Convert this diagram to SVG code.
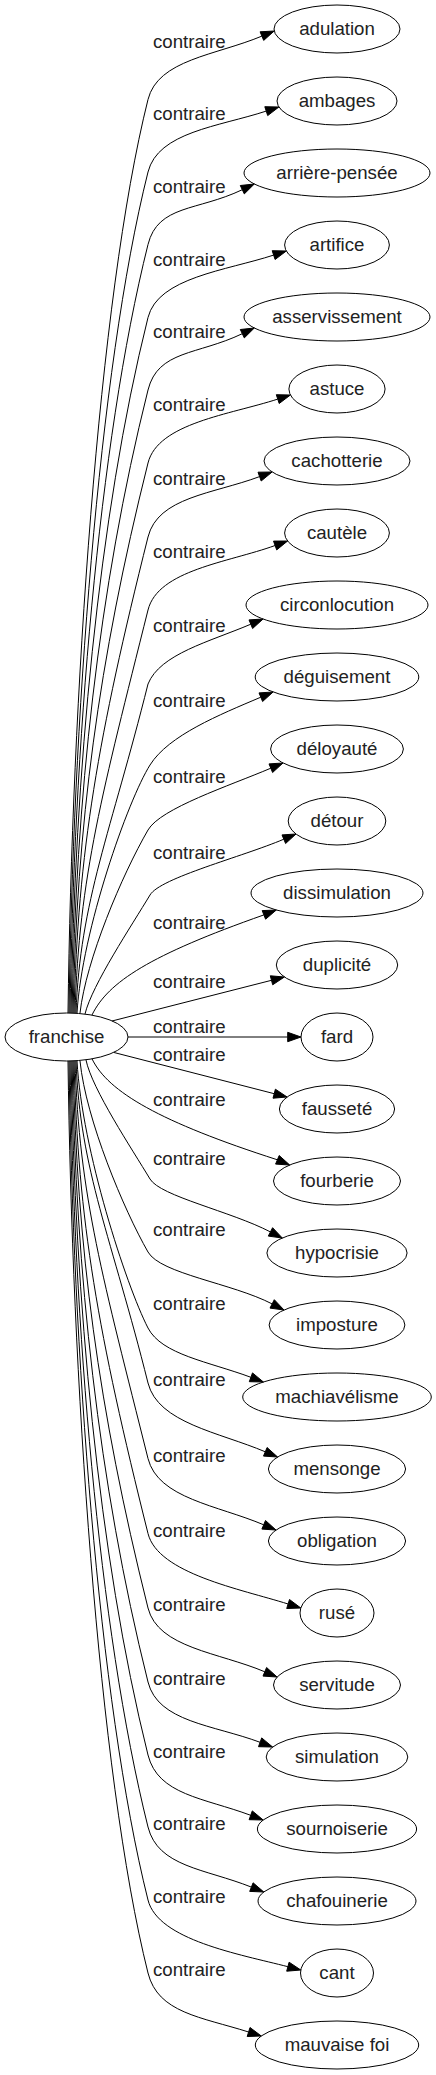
<svg xmlns="http://www.w3.org/2000/svg" width="436" height="2075" viewBox="0 0 436 2075">
<style>
text{font-family:"Liberation Sans",Arial,sans-serif;font-size:18.67px;fill:#222}
.node ellipse{fill:none;stroke:#000;stroke-width:1}
.node text{text-anchor:middle}
.edge path{fill:none;stroke:#000;stroke-width:1}
.edge polygon{fill:#000;stroke:#000;stroke-width:1}
</style>
<rect width="436" height="2075" fill="#fff"/>
<g id="edges">
<g class="edge" id="e0"><path d="M68,1013 C72,702.4 98,299.5 148,99.5 C158,59.5 215.7,55.4 261.9,36.1"/><polygon points="263.7,40.4 274.2,31 260.1,31.8"/><text x="153" y="47.5">contraire</text></g>
<g class="edge" id="e1"><path d="M69,1013 C73,727 98,372 148,172 C158,132 218.7,126.6 266.2,111.1"/><polygon points="267.7,115.6 278.9,107 264.8,106.7"/><text x="153" y="120">contraire</text></g>
<g class="edge" id="e2"><path d="M70,1013 C74,752 98,444.5 148,244.5 C158,204.5 197.3,211.2 242.3,189.7"/><polygon points="244.3,193.9 254.3,184 240.3,185.5"/><text x="153" y="192.5">contraire</text></g>
<g class="edge" id="e3"><path d="M71,1013 C75,776.5 98,517.5 148,317.5 C158,277.5 226.1,270.6 273.6,255.1"/><polygon points="275.1,259.5 286.3,251 272.2,250.7"/><text x="153" y="265.5">contraire</text></g>
<g class="edge" id="e4"><path d="M72,1013 C76,801.2 98,590 148,390 C158,350 197.3,355.2 242.3,333.7"/><polygon points="244.3,337.9 254.3,328 240.3,329.5"/><text x="153" y="338">contraire</text></g>
<g class="edge" id="e5"><path d="M73,1013 C77,826 98,663 148,463 C158,423 230.2,414.6 277.7,399.1"/><polygon points="279.2,403.5 290.4,395 276.3,394.7"/><text x="153" y="411">contraire</text></g>
<g class="edge" id="e6"><path d="M74,1013 C78,851.2 98,737 148,537 C158,497 212.8,494 259.6,476.6"/><polygon points="261.2,481 272.1,472 258,472.2"/><text x="153" y="485">contraire</text></g>
<g class="edge" id="e7"><path d="M75,1013 C79,876 102.8,791 148,610 C158,570 228.1,562.5 275.1,545.5"/><polygon points="276.7,549.9 287.6,541 273.5,541.1"/><text x="153" y="558">contraire</text></g>
<g class="edge" id="e8"><path d="M76,1013 C80,901 111,832 148,684 C160,654 209.4,641.8 250.8,624.2"/><polygon points="252.6,628.5 263.1,619 249,619.9"/><text x="153" y="632">contraire</text></g>
<g class="edge" id="e9"><path d="M77,1013 C82,930 128,800 150,765 C168.6,735.3 219.4,714.8 260.8,697.2"/><polygon points="262.6,701.5 273.1,692 259,692.9"/><text x="153" y="707">contraire</text></g>
<g class="edge" id="e10"><path d="M80,1013 C86,960 122,875 148,830 C160.5,808.3 229.4,785.8 270.8,768.2"/><polygon points="272.6,772.5 283,763 269,763.9"/><text x="153" y="783">contraire</text></g>
<g class="edge" id="e11"><path d="M85,1014 C92,985 132,925 150,895 C160.2,877.8 242.4,856.8 283.8,839.2"/><polygon points="285.6,843.5 296,834 282,834.9"/><text x="153" y="859">contraire</text></g>
<g class="edge" id="e12"><path d="M92,1015 C108,982 150,955 263.9,914.9"/><polygon points="265.6,919.2 276.3,910 262.2,910.6"/><text x="153" y="929">contraire</text></g>
<g class="edge" id="e13"><path d="M112,1021 L271.5,980.3"/><polygon points="272.7,984.8 284.4,977 270.3,975.8"/><text x="153" y="988">contraire</text></g>
<g class="edge" id="e14"><path d="M128,1037 L287.7,1037"/><polygon points="287.7,1041.7 301,1037 287.7,1032.3"/><text x="153" y="1032.5">contraire</text></g>
<g class="edge" id="e15"><path d="M114,1052.5 L274.2,1093.7"/><polygon points="273,1098.2 287.1,1097 275.4,1089.2"/><text x="153" y="1061">contraire</text></g>
<g class="edge" id="e16"><path d="M92,1058.8 C108,1092 160,1122 277.4,1159.8"/><polygon points="275.6,1164.1 289.7,1165 279.2,1155.5"/><text x="153" y="1106">contraire</text></g>
<g class="edge" id="e17"><path d="M86,1060 C92,1089 132,1149 150,1179 C160.2,1196.2 230.5,1211.2 270.4,1231.9"/><polygon points="268.3,1236.1 282.3,1238 272.6,1227.7"/><text x="153" y="1165">contraire</text></g>
<g class="edge" id="e18"><path d="M80,1061 C86,1120 124,1210 148,1252 C160.5,1273.8 232.1,1283.2 272.1,1303.9"/><polygon points="270,1308.1 284,1310 274.3,1299.7"/><text x="153" y="1236">contraire</text></g>
<g class="edge" id="e19"><path d="M77,1061 C82,1150 126,1285 148,1328 C161.8,1354.7 208.6,1361.6 250.9,1377.3"/><polygon points="249.3,1381.7 263.4,1382 252.5,1372.9"/><text x="153" y="1310">contraire</text></g>
<g class="edge" id="e20"><path d="M76,1061 C80,1170.5 111.8,1238.1 148,1383 C158,1423 219.3,1432.3 265.3,1451.8"/><polygon points="263.5,1456.1 277.6,1457 267.1,1447.5"/><text x="153" y="1386">contraire</text></g>
<g class="edge" id="e21"><path d="M75,1061 C79,1196.2 103.3,1279.6 148,1458.5 C158,1498.5 217.7,1505.3 263.7,1524.8"/><polygon points="261.9,1529.1 276,1530 265.5,1520.5"/><text x="153" y="1461.5">contraire</text></g>
<g class="edge" id="e22"><path d="M74,1061 C78,1221.7 98,1333.5 148,1533.5 C158,1573.5 240.4,1589 288.1,1604"/><polygon points="286.7,1608.5 300.8,1608 289.5,1599.5"/><text x="153" y="1536.5">contraire</text></g>
<g class="edge" id="e23"><path d="M73,1061 C77,1247 98,1408 148,1608 C158,1648 218.8,1652.3 264.8,1671.8"/><polygon points="263,1676.1 277.1,1677 266.6,1667.5"/><text x="153" y="1611">contraire</text></g>
<g class="edge" id="e24"><path d="M72,1061 C76,1272.1 98,1482 148,1682 C158,1722 213.1,1724.8 260.1,1742.3"/><polygon points="258.5,1746.7 272.6,1747 261.7,1737.9"/><text x="153" y="1685">contraire</text></g>
<g class="edge" id="e25"><path d="M71,1061 C75,1297 98,1555 148,1755 C158,1795 203.7,1797.8 250.7,1815.3"/><polygon points="249.1,1819.7 263.2,1820 252.3,1810.9"/><text x="153" y="1758">contraire</text></g>
<g class="edge" id="e26"><path d="M70,1061 C74,1321.4 98,1627 148,1827 C158,1867 204.9,1868.6 251.4,1887.1"/><polygon points="249.7,1891.4 263.8,1892 253.1,1882.8"/><text x="153" y="1830">contraire</text></g>
<g class="edge" id="e27"><path d="M69,1061 C73,1346.3 98,1700 148,1900 C158,1940 239.5,1954.2 287.9,1966.7"/><polygon points="286.7,1971.2 300.8,1970 289.1,1962.2"/><text x="153" y="1903">contraire</text></g>
<g class="edge" id="e28"><path d="M68,1061 C72,1371.1 98,1773 148,1973 C158,2013 200.9,2016.9 248.6,2032"/><polygon points="247.2,2036.5 261.3,2036 250,2027.5"/><text x="153" y="1976">contraire</text></g>
</g>
<g class="node" id="franchise"><ellipse cx="66.5" cy="1037" rx="61.5" ry="24"/><text x="66.5" y="1043">franchise</text></g>
<g class="node" id="n0"><ellipse cx="337" cy="29" rx="63" ry="24"/><text x="337" y="35">adulation</text></g>
<g class="node" id="n1"><ellipse cx="337" cy="101" rx="60" ry="24"/><text x="337" y="107">ambages</text></g>
<g class="node" id="n2"><ellipse cx="337" cy="173" rx="93" ry="24"/><text x="337" y="179">arrière-pensée</text></g>
<g class="node" id="n3"><ellipse cx="337" cy="245" rx="52.4" ry="24"/><text x="337" y="251">artifice</text></g>
<g class="node" id="n4"><ellipse cx="337" cy="317" rx="93" ry="24"/><text x="337" y="323">asservissement</text></g>
<g class="node" id="n5"><ellipse cx="337" cy="389" rx="48.1" ry="24"/><text x="337" y="395">astuce</text></g>
<g class="node" id="n6"><ellipse cx="337" cy="461" rx="73" ry="24"/><text x="337" y="467">cachotterie</text></g>
<g class="node" id="n7"><ellipse cx="337" cy="533" rx="52.4" ry="24"/><text x="337" y="539">cautèle</text></g>
<g class="node" id="n8"><ellipse cx="337" cy="605" rx="91" ry="24"/><text x="337" y="611">circonlocution</text></g>
<g class="node" id="n9"><ellipse cx="337" cy="677" rx="81.8" ry="24"/><text x="337" y="683">déguisement</text></g>
<g class="node" id="n10"><ellipse cx="337" cy="749" rx="66.4" ry="24"/><text x="337" y="755">déloyauté</text></g>
<g class="node" id="n11"><ellipse cx="337" cy="821" rx="48.8" ry="24"/><text x="337" y="827">détour</text></g>
<g class="node" id="n12"><ellipse cx="337" cy="893" rx="86" ry="24"/><text x="337" y="899">dissimulation</text></g>
<g class="node" id="n13"><ellipse cx="337" cy="965" rx="60.7" ry="24"/><text x="337" y="971">duplicité</text></g>
<g class="node" id="n14"><ellipse cx="337" cy="1037" rx="36" ry="24"/><text x="337" y="1043">fard</text></g>
<g class="node" id="n15"><ellipse cx="337" cy="1109" rx="57.6" ry="24"/><text x="337" y="1115">fausseté</text></g>
<g class="node" id="n16"><ellipse cx="337" cy="1181" rx="63.5" ry="24"/><text x="337" y="1187">fourberie</text></g>
<g class="node" id="n17"><ellipse cx="337" cy="1253" rx="70.1" ry="24"/><text x="337" y="1259">hypocrisie</text></g>
<g class="node" id="n18"><ellipse cx="337" cy="1325" rx="67.9" ry="24"/><text x="337" y="1331">imposture</text></g>
<g class="node" id="n19"><ellipse cx="337" cy="1397" rx="94.3" ry="24"/><text x="337" y="1403">machiavélisme</text></g>
<g class="node" id="n20"><ellipse cx="337" cy="1469" rx="68.6" ry="24"/><text x="337" y="1475">mensonge</text></g>
<g class="node" id="n21"><ellipse cx="337" cy="1541" rx="68.6" ry="24"/><text x="337" y="1547">obligation</text></g>
<g class="node" id="n22"><ellipse cx="337" cy="1613" rx="37" ry="24"/><text x="337" y="1619">rusé</text></g>
<g class="node" id="n23"><ellipse cx="337" cy="1685" rx="63.5" ry="24"/><text x="337" y="1691">servitude</text></g>
<g class="node" id="n24"><ellipse cx="337" cy="1757" rx="70.8" ry="24"/><text x="337" y="1763">simulation</text></g>
<g class="node" id="n25"><ellipse cx="337" cy="1829" rx="79.6" ry="24"/><text x="337" y="1835">sournoiserie</text></g>
<g class="node" id="n26"><ellipse cx="337" cy="1901" rx="79" ry="24"/><text x="337" y="1907">chafouinerie</text></g>
<g class="node" id="n27"><ellipse cx="337" cy="1973" rx="36.5" ry="24"/><text x="337" y="1979">cant</text></g>
<g class="node" id="n28"><ellipse cx="337" cy="2045" rx="81.7" ry="24"/><text x="337" y="2051">mauvaise foi</text></g>
</svg>
